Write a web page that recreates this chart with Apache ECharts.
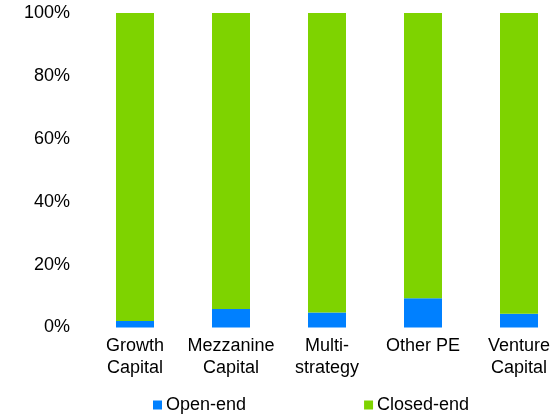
<!DOCTYPE html>
<html><head><meta charset="utf-8">
<script src="https://cdn.jsdelivr.net/npm/echarts@6/dist/echarts.min.js"></script>
<style>html,body{margin:0;padding:0;background:#fff}#c{width:553px;height:414px}</style>
</head><body><div id="c"></div>
<script>
const categories = ["Growth\nCapital", "Mezzanine\nCapital", "Multi-\nstrategy", "Other PE", "Venture\nCapital"];
const openEnd = [2.1, 5.9, 4.8, 9.3, 4.4];
const closedEnd = [97.9, 94.1, 95.2, 90.7, 95.6];
const yTicks = [0, 20, 40, 60, 80, 100];

const chart = echarts.init(document.getElementById('c'));
const font = 'Liberation Sans, Arial, sans-serif';
chart.setOption({
  animation: false,
  grid: {left: 87, width: 480, top: 13, height: 314.5, outerBoundsMode: 'none', containLabel: false},
  legend: {
    data: ['Open-end', 'Closed-end'],
    left: 148, top: 391, itemWidth: 9, itemHeight: 9, itemGap: 118,
    icon: 'rect',
    textStyle: {fontFamily: font, fontSize: 18, color: '#000', padding: [0,0,0,-1]}
  },
  xAxis: {
    type: 'category', data: categories,
    axisLine: {show: false}, axisTick: {show: false},
    axisLabel: {fontFamily: font, fontSize: 18, color: '#000', lineHeight: 22, margin: 8, verticalAlign: 'top', interval: 0}
  },
  yAxis: {
    type: 'value', min: yTicks[0], max: yTicks[yTicks.length-1], interval: 20,
    splitLine: {show: false}, axisLine: {show: false}, axisTick: {show: false},
    axisLabel: {fontFamily: font, fontSize: 18, color: '#000', margin: 17, formatter: v => v + '%'}
  },
  series: [
    {name: 'Open-end', type: 'bar', stack: 's', data: openEnd, barWidth: 38, itemStyle: {color: '#0080ff'}},
    {name: 'Closed-end', type: 'bar', stack: 's', data: closedEnd, barWidth: 38, itemStyle: {color: '#7ed300'}}
  ]
});
</script></body></html>
